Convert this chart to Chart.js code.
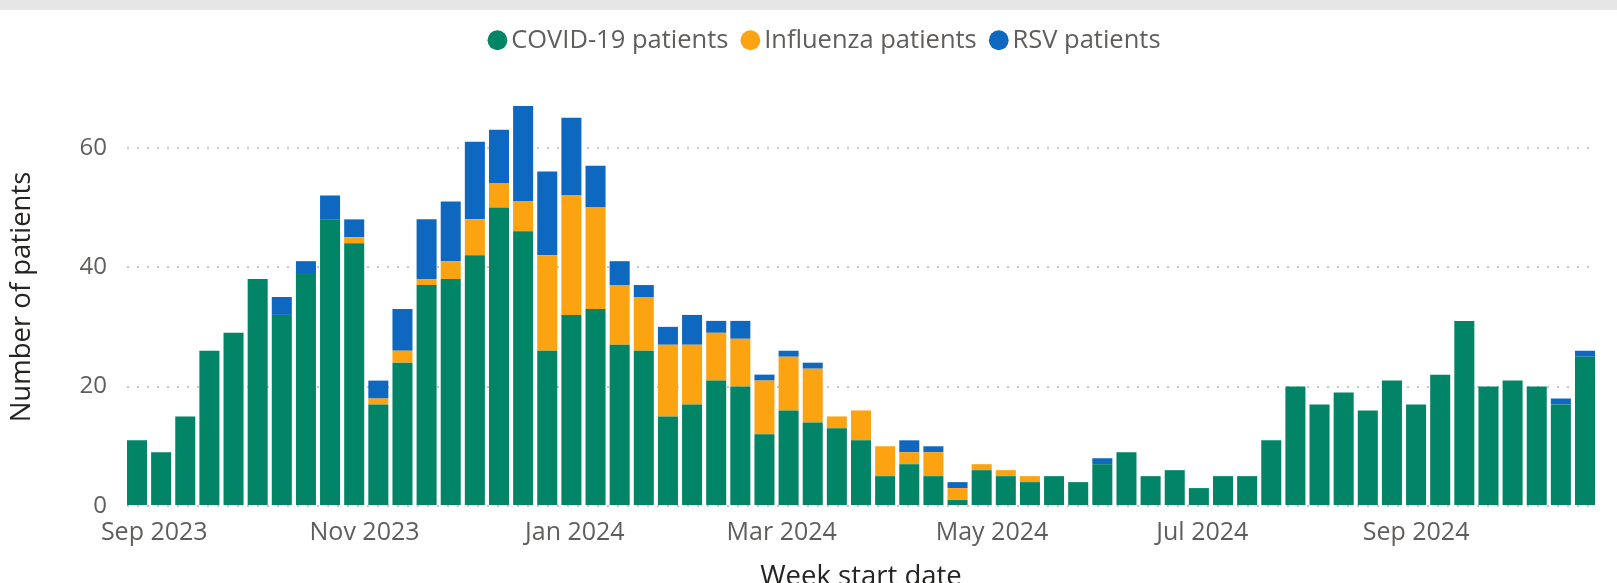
<!DOCTYPE html>
<html>
<head>
<meta charset="utf-8">
<script src="https://cdn.jsdelivr.net/npm/chart.js@4.4.1/dist/chart.umd.min.js"></script>
<style>
  html, body { margin: 0; padding: 0; width: 1617px; height: 583px; overflow: hidden; background: #e6e6e6; }
  #wrap { position: absolute; left: 0; top: 10px; width: 1617px; height: 584px; background: #fff; }
</style>
</head>
<body>
<div id="wrap"><canvas id="patientsChart" width="1617" height="584"></canvas></div>
<script>
  // weekly values, first week starting 27 Aug 2023
  const firstWeek = "2023-08-27";
  const covidPatients = [11, 9, 15, 26, 29, 38, 32, 39, 48, 44, 17, 24, 37, 38, 42, 50, 46, 26, 32, 33,
    27, 26, 15, 17, 21, 20, 12, 16, 14, 13, 11, 5, 7, 5, 1, 6, 5, 4, 5, 4,
    7, 9, 5, 6, 3, 5, 5, 11, 20, 17, 19, 16, 21, 17, 22, 31, 20, 21, 20, 17, 25];
  const fluPatients = [0, 0, 0, 0, 0, 0, 0, 0, 0, 1, 1, 2, 1, 3, 6, 4, 5, 16, 20, 17,
    10, 9, 12, 10, 8, 8, 9, 9, 9, 2, 5, 5, 2, 4, 2, 1, 1, 1, 0, 0,
    0, 0, 0, 0, 0, 0, 0, 0, 0, 0, 0, 0, 0, 0, 0, 0, 0, 0, 0, 0, 0];
  const rsvPatients = [0, 0, 0, 0, 0, 0, 3, 2, 4, 3, 3, 7, 10, 10, 13, 9, 16, 14, 13, 7,
    4, 2, 3, 5, 2, 3, 1, 1, 1, 0, 0, 0, 2, 1, 1, 0, 0, 0, 0, 0,
    1, 0, 0, 0, 0, 0, 0, 0, 0, 0, 0, 0, 0, 0, 0, 0, 0, 0, 0, 1, 1];

  const tickDates = ["2023-09-01", "2023-11-01", "2024-01-01", "2024-03-01", "2024-05-01", "2024-07-01", "2024-09-01"];
  const tickLabels = ["Sep 2023", "Nov 2023", "Jan 2024", "Mar 2024", "May 2024", "Jul 2024", "Sep 2024"];
  const yTicks = [0, 20, 40, 60];

  const DAY = 24 * 3600 * 1000;
  const weekTimes = covidPatients.map((_, i) => Date.parse(firstWeek) + i * 7 * DAY);
  const toPoints = (arr) => arr.map((v, i) => ({ x: weekTimes[i], y: v }));

  const font = "'Open Sans', 'Noto Sans', sans-serif";
  const greyText = "#605e5c";
  const darkText = "#252423";

  // nudge legend to where the original sits
  const legendShift = {
    id: "legendShift",
    afterLayout(chart) {
      const lg = chart.legend;
      lg.left += 31;
      lg.right += 31;
      lg.top -= 25;
      lg.bottom -= 25;
    }
  };

  new Chart(document.getElementById("patientsChart"), {
    type: "bar",
    data: {
      datasets: [
        { label: "COVID-19 patients", data: toPoints(covidPatients), backgroundColor: "#028566" },
        { label: "Influenza patients", data: toPoints(fluPatients), backgroundColor: "#fca312" },
        { label: "RSV patients", data: toPoints(rsvPatients), backgroundColor: "#0f68c0" }
      ]
    },
    options: {
      responsive: false,
      animation: false,
      barPercentage: 0.83,
      categoryPercentage: 1,
      layout: { padding: { left: 0, right: 22, top: 21.5, bottom: 0 } },
      plugins: {
        tooltip: { enabled: false },
        legend: {
          position: "top",
          labels: {
            usePointStyle: true,
            pointStyle: "circle",
            boxWidth: 2,
            boxHeight: 14,
            padding: 21,
            color: greyText,
            font: { family: font, size: 25.5 }
          }
        }
      },
      scales: {
        x: {
          type: "linear",
          stacked: true,
          offset: false,
          min: weekTimes[0] - 2.9 * DAY,
          max: weekTimes[weekTimes.length - 1] + 2.9 * DAY,
          afterBuildTicks: (scale) => {
            scale.ticks = tickDates.map(d => ({ value: Date.parse(d) }));
          },
          afterFit: (scale) => { scale.height = 88; },
          grid: { display: false, drawTicks: false },
          border: { display: false },
          ticks: {
            autoSkip: false,
            maxRotation: 0,
            padding: 12,
            color: greyText,
            font: { family: font, size: 25 },
            callback: (value, index) => tickLabels[index]
          },
          title: {
            display: true,
            text: "Week start date",
            color: darkText,
            padding: { top: 0, bottom: 0 },
            font: { family: font, size: 27.5 }
          }
        },
        y: {
          stacked: true,
          min: 0,
          max: 70,
          afterBuildTicks: (scale) => {
            scale.ticks = yTicks.map(v => ({ value: v }));
          },
          afterFit: (scale) => { scale.width = 127; },
          grid: { color: "#c8c8c8", lineWidth: 2, drawTicks: false },
          border: { display: false, dash: [2, 8] },
          ticks: {
            padding: 20,
            color: greyText,
            font: { family: font, size: 24 }
          },
          title: {
            display: true,
            text: "Number of patients",
            color: darkText,
            padding: { top: 6, bottom: 0 },
            font: { family: font, size: 27.5 }
          }
        }
      }
    },
    plugins: [legendShift]
  });
</script>
</body>
</html>
